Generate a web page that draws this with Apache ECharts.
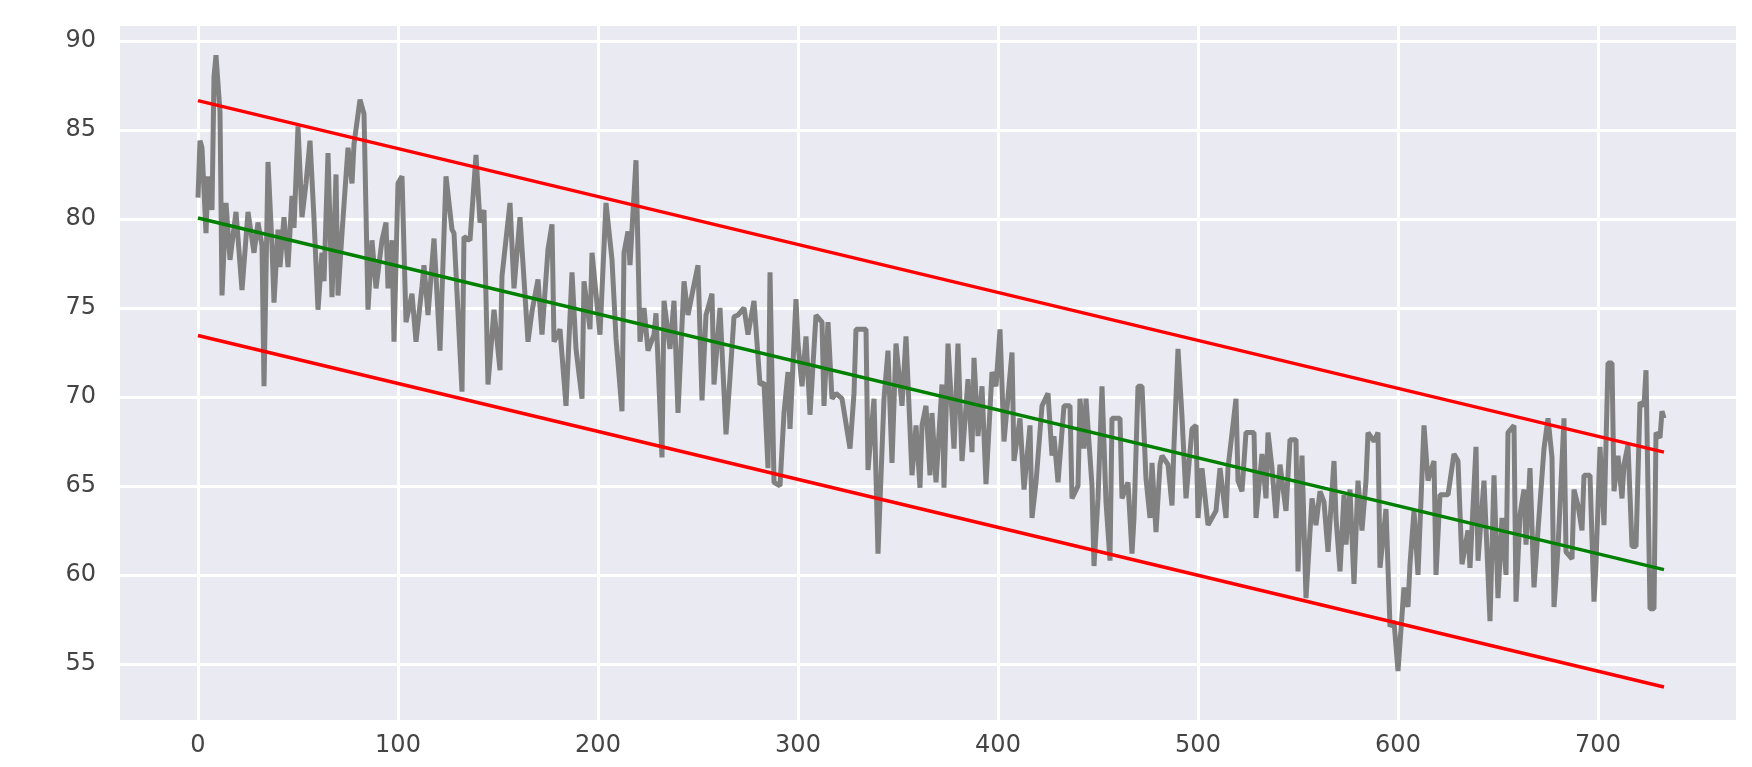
<!DOCTYPE html>
<html>
<head>
<meta charset="utf-8">
<script src="https://cdn.jsdelivr.net/npm/echarts@6/dist/echarts.min.js"></script>
<style>
html,body{margin:0;padding:0;background:#ffffff;}
#chart{width:1752px;height:767px;}
</style>
</head>
<body>
<div id="chart"></div>
<script>
// Tick labels
var xTicks = [0, 100, 200, 300, 400, 500, 600, 700];
var yTicks = [55, 60, 65, 70, 75, 80, 85, 90];

// Observed series (x index, value)
var obsX = [0,1,2,4,5,7,8,9,10,11,12,14,16,19,22,25,28,30,32,33,35,37,38,40,41,43,45,47,48,50,52,54,56,58,60,62,63,65,67,69,
70,72,75,77,78,81,83,85,87,89,92,94,95,97,98,100,102,104,107,109,112,113,115,118,121,124,127,128,132,133,136,139,141,143,145,
148,151,152,156,158,161,162,165,167,170,172,175,177,178,181,184,187,189,192,193,196,197,201,204,207,209,212,213,215,216,217,219,220,221,223,225,228,229,232,233,236,238,240,243,245,248,250,252,254,257,258,261,264,266,268,270,273,275,278,281,283,285,286,288,
291,293,295,296,299,300,302,304,306,309,312,313,315,317,319,322,326,328,329,334,335,338,340,343,345,347,349,352,354,357,359,361,362,364,366,367,369,372,373,375,378,380,382,385,387,388,390,392,394,397,399,401,403,407,408,411,413,416,417,419,422,425,427,428,430,433,436,437,440,441,443,444,447,448,450,452,454,456,457,461,462,465,467,468,470,472,474,476,477,479,481,482,485,487,488,490,492,494,497,499,500,502,
505,509,511,514,515,519,520,522,524,528,529,532,534,535,537,539,541,544,546,549,550,552,554,557,559,561,563,565,568,569,571,573,574,576,578,580,582,584,585,588,590,591,594,595,596,598,600,603,605,606,608,610,613,615,618,619,621,625,628,630,632,635,636,639,640,643,646,648,
650,652,654,655,658,659,661,663,664,666,668,670,673,675,677,678,680,683,684,687,688,690,692,693,696,698,699,701,703,705,707,708,710,712,713,715,717,719,721,723,724,726,728,729,731,732,733];
var obsY = [81.2,84.4,84.0,79.2,82.4,80.5,88.0,89.2,89.2,86.0,75.7,80.9,77.7,80.4,76.0,80.4,78.1,79.8,78.5,70.6,83.2,78.5,75.3,79.4,77.3,80.1,77.3,81.3,79.5,85.2,80.1,82.0,84.4,80.0,74.9,78.1,76.5,83.7,75.6,82.5,
75.7,79.2,84.0,82.0,84.2,86.7,85.9,74.9,78.8,76.1,78.8,79.8,76.1,78.8,73.1,82.0,82.4,74.2,75.8,73.1,76.2,77.4,74.6,78.9,72.6,82.4,79.4,79.2,70.3,79.0,78.8,83.6,79.8,80.5,70.7,
74.9,71.5,76.8,80.9,76.1,80.1,80.0,73.1,74.8,76.6,73.5,78.3,79.7,73.1,73.8,69.5,77.0,72.7,69.9,76.5,73.8,78.1,73.5,80.9,77.7,73.3,69.2,78.1,79.3,77.4,79.4,83.3,83.2,73.1,75.0,72.6,73.5,74.7,66.6,75.4,72.7,75.4,69.1,76.5,74.6,76.3,77.4,69.8,74.6,75.8,70.7,75.0,67.9,71.1,74.5,74.6,75.0,73.5,75.4,70.7,70.8,66.0,77.0,65.2,
65.0,69.1,71.4,68.2,75.5,73.0,70.6,73.4,69.0,74.6,74.2,69.5,74.2,69.9,70.2,69.9,67.1,70.2,73.8,73.8,65.9,69.9,61.2,69.9,72.6,66.3,73.0,69.5,73.4,65.6,68.4,64.9,68.4,69.5,65.6,69.1,65.2,70.7,64.9,73.0,67.1,73.0,66.4,71.0,66.9,72.2,67.8,70.6,65.1,71.4,70.6,73.8,67.5,72.5,66.4,68.8,64.8,68.4,63.2,65.2,69.5,70.2,66.7,67.8,65.2,69.5,69.5,64.3,65.0,69.9,67.1,69.9,65.0,60.5,64.3,70.6,64.1,60.8,68.8,68.8,64.3,65.2,61.2,63.2,70.6,70.6,65.4,63.2,66.3,62.4,66.2,66.7,66.2,63.9,67.3,72.7,68.9,64.3,68.2,68.4,63.2,66.0,
62.8,63.6,66.0,63.2,66.0,69.9,65.3,64.7,68.0,68.0,63.2,66.8,64.3,68.0,66.0,63.2,66.2,63.6,67.6,67.6,60.2,66.7,58.7,64.3,62.8,64.7,64.1,61.3,66.4,63.2,60.2,64.5,61.7,64.8,59.5,65.3,62.5,65.3,68.0,67.5,68.0,60.4,63.7,63.6,57.1,57.4,54.6,59.3,58.2,60.6,63.6,60.0,68.4,65.3,66.4,60.0,64.5,64.5,66.8,66.4,60.6,62.5,60.4,67.2,60.8,65.3,57.4,65.6,
58.7,63.2,60.0,68.0,68.4,58.5,63.4,64.8,61.7,66.0,59.3,62.5,67.1,68.8,66.6,58.2,61.5,68.8,61.3,60.9,64.8,63.9,62.5,65.6,65.6,58.5,60.6,67.2,62.8,71.9,71.9,64.7,66.7,64.3,66.2,67.3,61.6,61.6,69.7,69.5,71.5,58.1,58.1,68.0,67.7,69.2,68.8];

// Trend line and band end points
var trendX = [0, 733];
var trendMid = [80.05, 60.3];
var trendUpper = [86.65, 66.9];
var trendLower = [73.45, 53.7];

function pairs(xs, ys) {
  var out = [];
  for (var i = 0; i < xs.length; i++) out.push([xs[i], ys[i]]);
  return out;
}

var labelStyle = {
  fontFamily: 'DejaVu Sans',
  fontSize: 24,
  color: '#444444'
};

var chart = echarts.init(document.getElementById('chart'), null, {renderer: 'canvas'});
chart.setOption({
  animation: false,
  backgroundColor: '#ffffff',
  grid: {
    left: 120, right: 16, top: 26, bottom: 47,
    show: true, backgroundColor: '#EAEAF2', borderWidth: 0
  },
  xAxis: {
    type: 'value',
    min: -39, max: 769,
    axisLine: {show: false},
    axisTick: {show: false, customValues: xTicks},
    axisLabel: Object.assign({customValues: xTicks, margin: 14}, labelStyle),
    splitLine: {show: true, lineStyle: {color: '#ffffff', width: 3}}
  },
  yAxis: {
    type: 'value',
    min: 51.85, max: 90.84,
    axisLine: {show: false},
    axisTick: {show: false, customValues: yTicks},
    axisLabel: Object.assign({customValues: yTicks, margin: 24}, labelStyle),
    splitLine: {show: true, lineStyle: {color: '#ffffff', width: 3}}
  },
  series: [
    {
      type: 'line', name: 'observed', data: pairs(obsX, obsY),
      showSymbol: false, symbol: 'none',
      lineStyle: {color: '#808080', width: 5},
      z: 2
    },
    {
      type: 'line', name: 'upper', data: pairs(trendX, trendUpper),
      showSymbol: false, symbol: 'none',
      lineStyle: {color: '#ff0000', width: 3.5}, z: 3
    },
    {
      type: 'line', name: 'lower', data: pairs(trendX, trendLower),
      showSymbol: false, symbol: 'none',
      lineStyle: {color: '#ff0000', width: 3.5}, z: 3
    },
    {
      type: 'line', name: 'trend', data: pairs(trendX, trendMid),
      showSymbol: false, symbol: 'none',
      lineStyle: {color: '#008000', width: 3.5}, z: 3
    }
  ]
});
</script>
</body>
</html>
